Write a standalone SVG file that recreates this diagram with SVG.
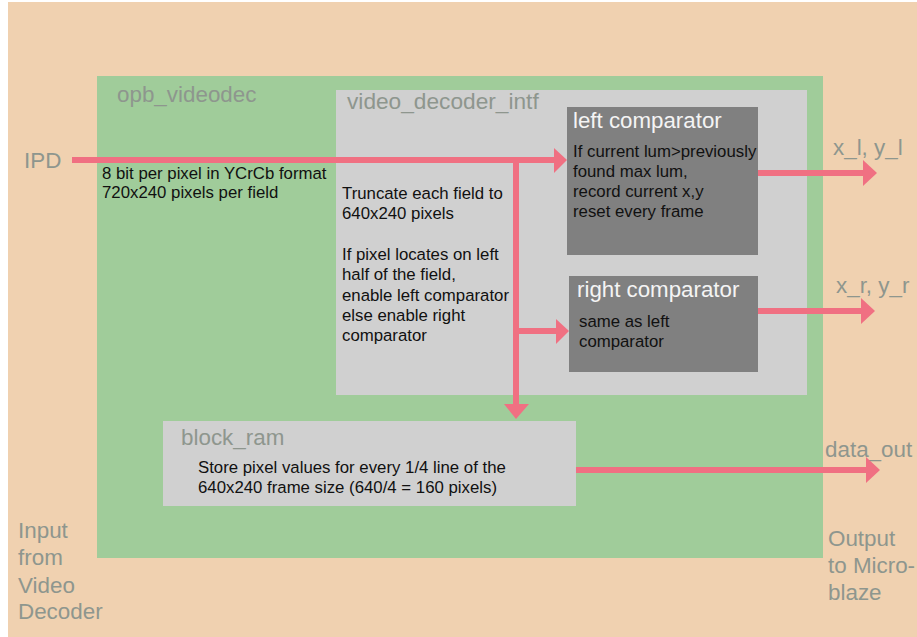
<svg xmlns="http://www.w3.org/2000/svg" width="917" height="637" viewBox="0 0 917 637">
<style>
.lbl{font-family:"Liberation Sans",Arial,sans-serif;font-size:22.4px;fill:#8e968e}
.txt{font-family:"Liberation Sans",Arial,sans-serif;font-size:16.8px;fill:#111}
.wt{font-family:"Liberation Sans",Arial,sans-serif;font-size:22.3px;fill:#f4f4f4}
.ln{stroke:#f07082;stroke-width:6;fill:none}
.hd{fill:#f07082}
</style>
<rect x="0" y="0" width="917" height="637" fill="#ffffff"/>
<rect x="8" y="2" width="909" height="635" fill="#f0d1b0"/>
<g id="opb_videodec">
<rect x="97" y="76" width="726" height="482" fill="#a0cc9a"/>
<text class="lbl" x="117" y="102">opb_videodec</text>
<text class="txt" x="102" y="179">8 bit per pixel in YCrCb format</text>
<text class="txt" x="102" y="198">720x240 pixels per field</text>
</g>
<g id="video_decoder_intf">
<rect x="336" y="90" width="471" height="305" fill="#d0d0d0"/>
<text class="lbl" x="347" y="109" style="font-size:22.7px">video_decoder_intf</text>
<text class="txt" x="342" y="199">Truncate each field to</text>
<text class="txt" x="342" y="219">640x240 pixels</text>
<text class="txt" x="342" y="260">If pixel locates on left</text>
<text class="txt" x="342" y="280">half of the field,</text>
<text class="txt" x="342" y="301">enable left comparator</text>
<text class="txt" x="342" y="321">else enable right</text>
<text class="txt" x="342" y="341">comparator</text>
</g>
<g id="left_comparator">
<rect x="567" y="107" width="191" height="148" fill="#808080"/>
<text class="wt" x="573" y="128">left comparator</text>
<text class="txt" x="573" y="157">If current lum&gt;previously</text>
<text class="txt" x="573" y="177">found max lum,</text>
<text class="txt" x="573" y="197">record current x,y</text>
<text class="txt" x="573" y="217">reset every frame</text>
</g>
<g id="right_comparator">
<rect x="569" y="276" width="189" height="96" fill="#808080"/>
<text class="wt" x="577" y="297">right comparator</text>
<text class="txt" x="579" y="327">same as left</text>
<text class="txt" x="579" y="347">comparator</text>
</g>
<g id="block_ram">
<rect x="163" y="421" width="413" height="85" fill="#d0d0d0"/>
<text class="lbl" x="181" y="445">block_ram</text>
<text class="txt" x="198" y="473">Store pixel values for every 1/4 line of the</text>
<text class="txt" x="198" y="493">640x240 frame size (640/4 = 160 pixels)</text>
</g>
<g id="io_labels">
<text class="lbl" x="24" y="168">IPD</text>
<text class="lbl" x="18" y="538">Input</text>
<text class="lbl" x="18" y="565">from</text>
<text class="lbl" x="18" y="593">Video</text>
<text class="lbl" x="18" y="619">Decoder</text>
<text class="lbl" x="833" y="155">x_l, y_l</text>
<text class="lbl" x="836" y="293">x_r, y_r</text>
<text class="lbl" x="825" y="457">data_out</text>
<text class="lbl" x="828" y="546">Output</text>
<text class="lbl" x="828" y="573">to Micro-</text>
<text class="lbl" x="828" y="600">blaze</text>
</g>
<g id="connectors">
<line class="ln" x1="72" y1="160" x2="556" y2="160"/>
<polygon class="hd" points="554,148 567,160 554,173"/>
<line class="ln" x1="516" y1="160" x2="516" y2="406"/>
<polygon class="hd" points="504,404 529,404 516,419"/>
<line class="ln" x1="516" y1="331" x2="558" y2="331"/>
<polygon class="hd" points="556,319 569,331 556,344"/>
<line class="ln" x1="758" y1="173" x2="865" y2="173"/>
<polygon class="hd" points="863,160 877,173 863,186"/>
<line class="ln" x1="758" y1="311" x2="863" y2="311"/>
<polygon class="hd" points="861,298 875,311 861,324"/>
<line class="ln" x1="576" y1="470" x2="868" y2="470"/>
<polygon class="hd" points="866,457 880,470 866,483"/>
</g>
</svg>
